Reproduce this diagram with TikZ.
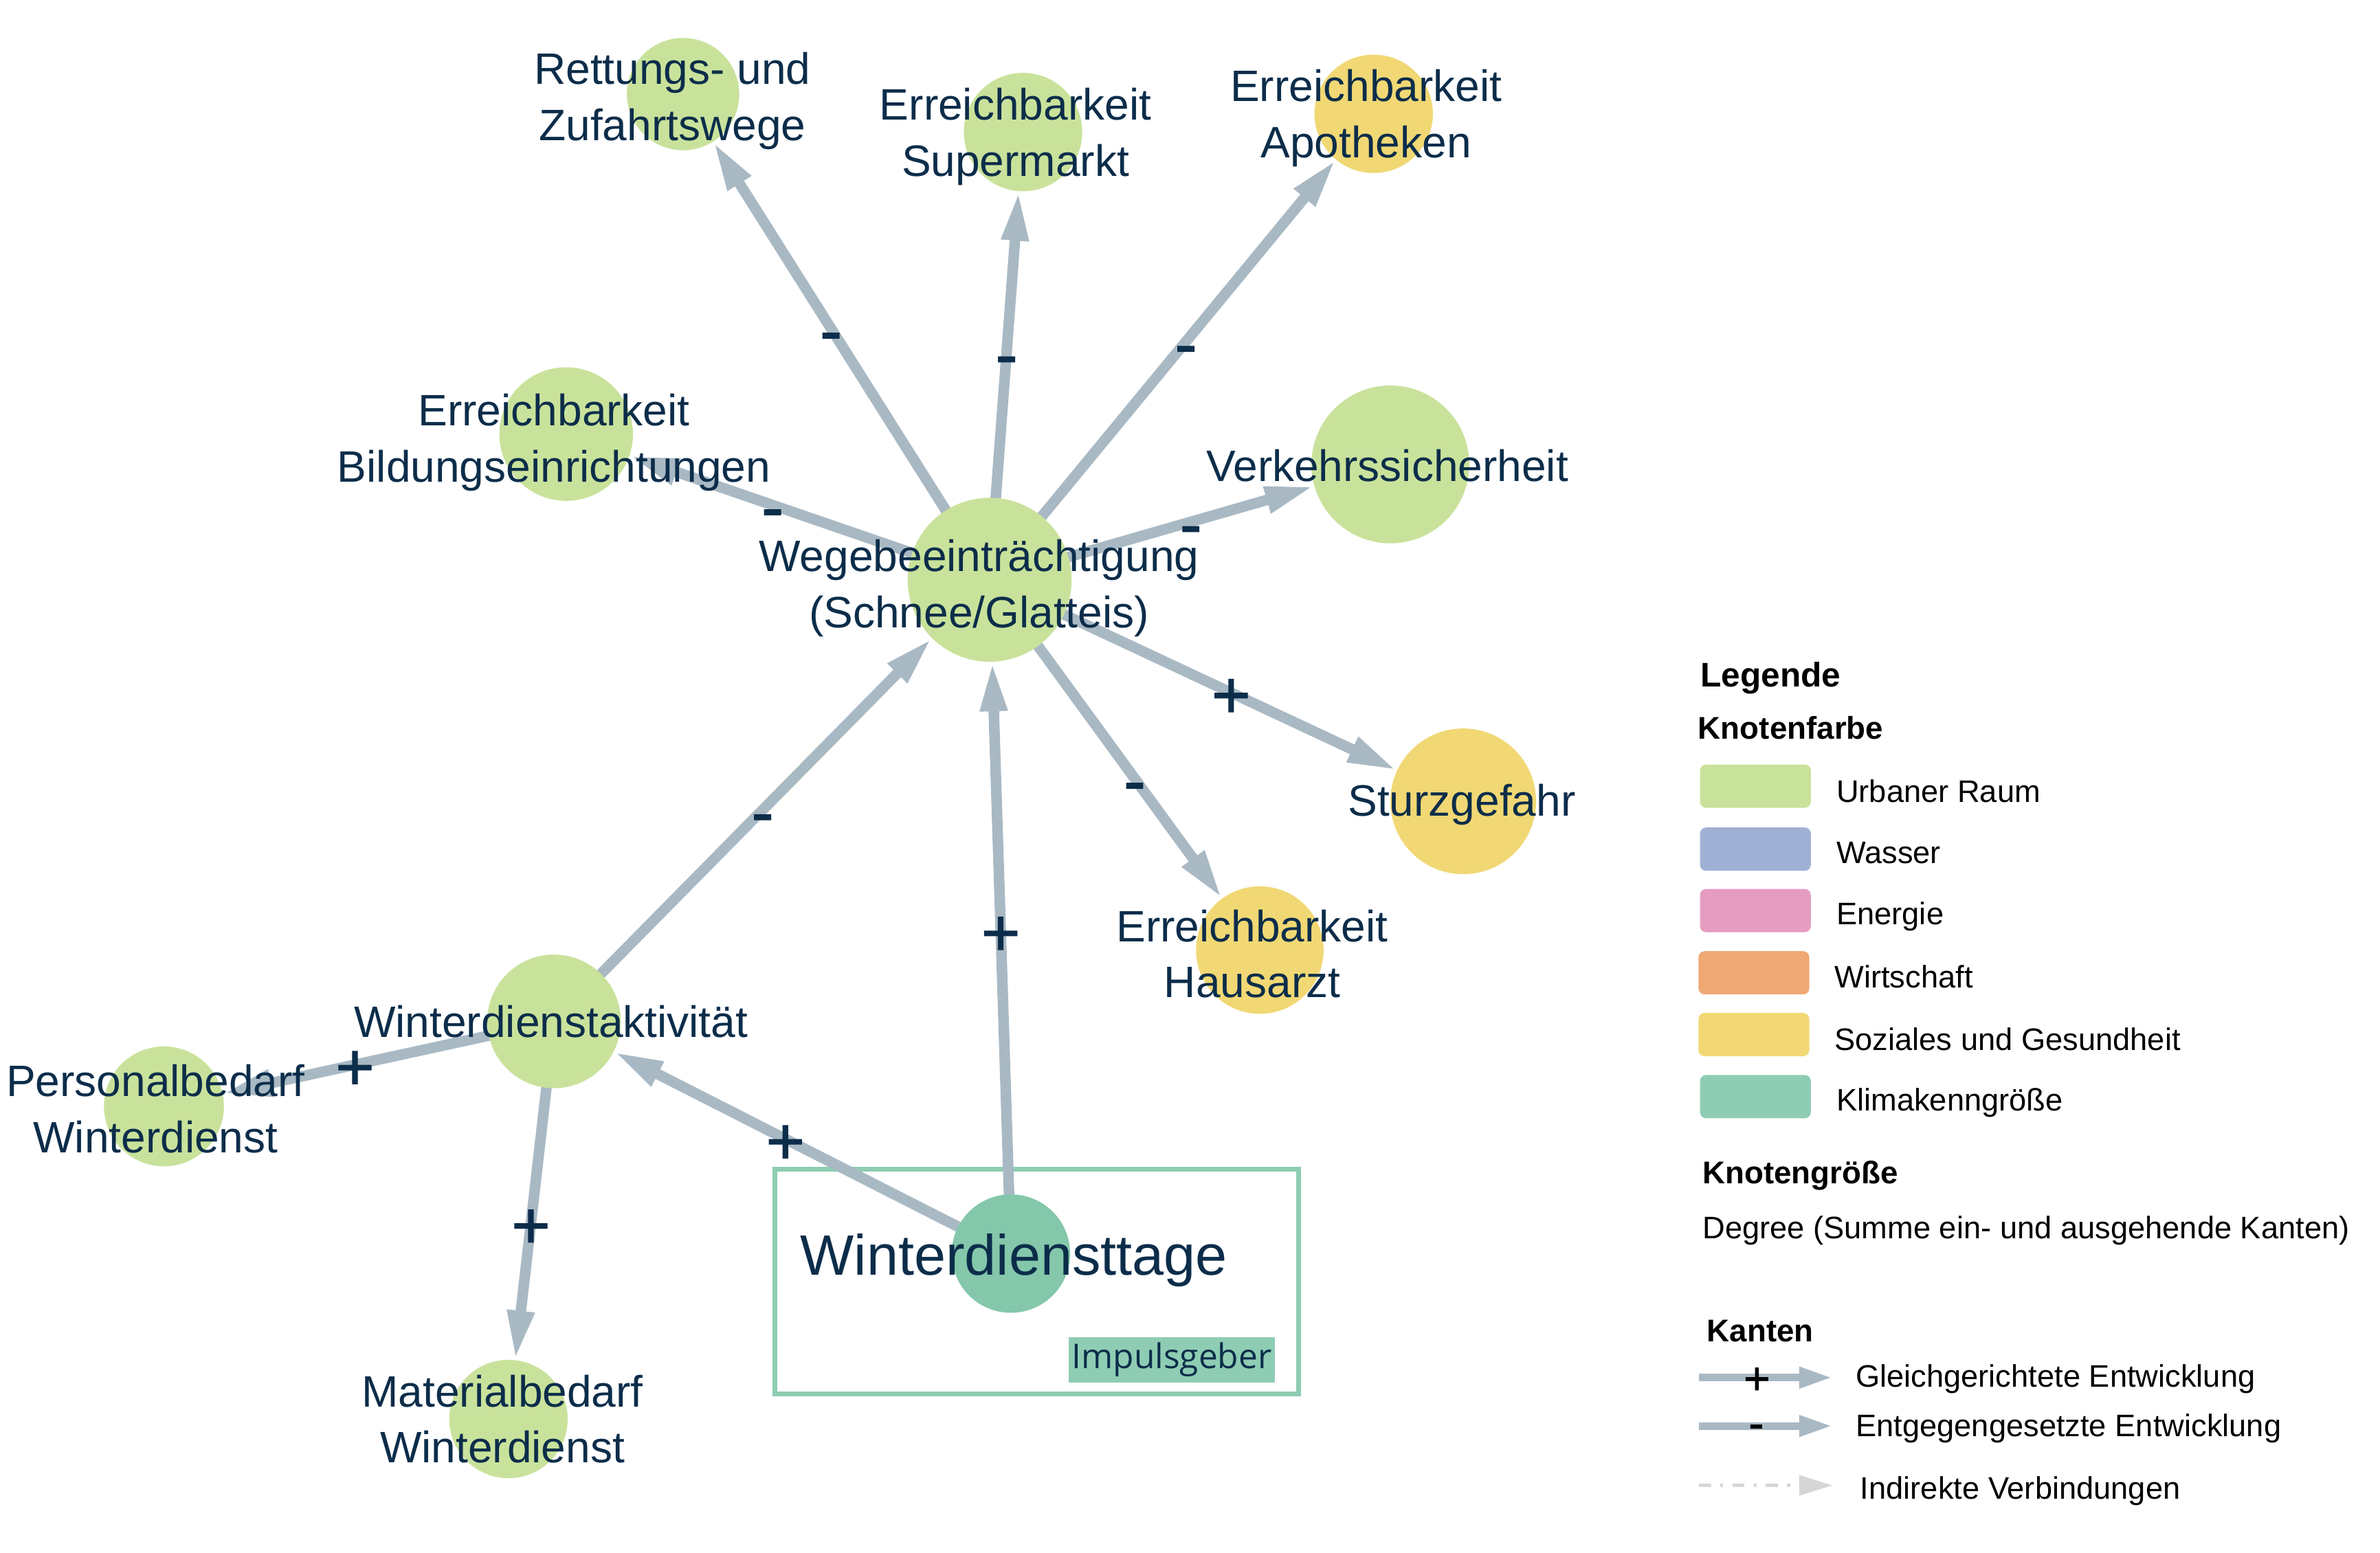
\documentclass[tikz,border=0pt]{standalone}
\usepackage{fontspec}
\setmainfont{Liberation Sans}
\newfontfamily\impfont{Open Sans}
\newfontfamily\signfont[FakeBold=1.2]{Liberation Sans}
\usetikzlibrary{arrows.meta}
\definecolor{txt}{HTML}{0C2D4A}
\definecolor{edgec}{HTML}{A9B9C4}
\definecolor{urb}{HTML}{C9E29B}
\definecolor{wass}{HTML}{A0B0D5}
\definecolor{ener}{HTML}{E59CC1}
\definecolor{wirt}{HTML}{F0A875}
\definecolor{soz}{HTML}{F1D874}
\definecolor{klim}{HTML}{8ECDB3}
\definecolor{klimnode}{HTML}{84C7AB}
\definecolor{indir}{HTML}{D6D6D6}
\pgfdeclarelayer{bottom}
\pgfdeclarelayer{background}
\pgfsetlayers{bottom,background,main}
\begin{document}
\begin{tikzpicture}[x=1pt,y=-1pt,
  circ/.style={circle,draw=none,inner sep=0pt,minimum size=#1},
  lab/.style={text=txt,font=\fontsize{29}{37}\selectfont,align=center,inner sep=0pt},
  conn/.style={draw=edgec,line width=7pt,-{Triangle[length=32.5pt,width=16.5pt]}},
  sgn/.style={text=txt,font=\signfont\fontsize{44}{44}\selectfont,inner sep=0pt,anchor=base,yshift=-16.5pt},
  leg/.style={anchor=base west,inner sep=0pt,font=\fontsize{20.5}{20.5}\selectfont},
  legb/.style={anchor=base west,inner sep=0pt,font=\fontsize{20.7}{20.7}\selectfont\bfseries},
  swatch/.style={rounded corners=4pt,minimum width=73pt,minimum height=28.5pt,inner sep=0pt},
  legconn/.style={draw=edgec,line width=5pt,-{Triangle[length=22pt,width=13pt]}},
  legsgn/.style={text=black,font=\signfont\fontsize{30}{30}\selectfont,inner sep=0pt,anchor=base}]
\useasboundingbox (0,0) rectangle (1568,1023);
\begin{pgfonlayer}{bottom}
\fill[white] (0,0) rectangle (1568,1023);
\node[draw=klim,line width=3pt,minimum width=345pt,minimum height=148pt,inner sep=0pt] (box) at (683,844.5) {};
\end{pgfonlayer}

% nodes
\node[circ=108,fill=urb] (W) at (652,382) {};
\node[circ=74,fill=urb] (RZ) at (450,62) {};
\node[circ=78,fill=urb] (SM) at (674,87) {};
\node[circ=78,fill=soz] (AP) at (905,75) {};
\node[circ=88,fill=urb] (BI) at (373,286) {};
\node[circ=104,fill=urb] (VS) at (916,306) {};
\node[circ=96,fill=soz] (SG) at (964,528) {};
\node[circ=84,fill=soz] (HA) at (830,626) {};
\node[circ=88,fill=urb] (WA) at (365,673) {};
\node[circ=79,fill=urb] (PB) at (108,729) {};
\node[circ=78,fill=urb] (MB) at (335,935) {};
\node[circ=78,fill=klimnode] (WT) at (666,826) {};

% labels
\node[lab] (W-l) at (645,387.5) {Wegebeeinträchtigung\\(Schnee/Glatteis)};
\node[lab] (RZ-l) at (443,66.5) {Rettungs- und\\Zufahrtswege};
\node[lab] (SM-l) at (669,90) {Erreichbarkeit\\Supermarkt};
\node[lab] (AP-l) at (900,78) {Erreichbarkeit\\Apotheken};
\node[lab] (BI-l) at (365,291.5) {Erreichbarkeit\\Bildungseinrichtungen};
\node[lab] (VS-l) at (914,307) {Verkehrssicherheit};
\node[lab] (SG-l) at (963,530) {Sturzgefahr};
\node[lab] (HA-l) at (825,628.5) {Erreichbarkeit\\Hausarzt};
\node[lab] (WA-l) at (363,673) {Winterdienstaktivität};
\node[lab] (PB-l) at (102.5,730.5) {Personalbedarf\\Winterdienst};
\node[lab] (MB-l) at (331,935) {Materialbedarf\\Winterdienst};
\node[text=txt,font=\fontsize{37.5}{37.5}\selectfont,anchor=base,inner sep=0pt] (WT-l) at (668,840) {Winterdiensttage};
\node[fill=klim,text=txt,font=\impfont\fontsize{22.5}{22.5}\selectfont,minimum width=135.5pt,minimum height=30pt,inner sep=0pt] (imp) at (772,896) {Impulsgeber};

% edges
\begin{pgfonlayer}{background}
\draw[conn] (W.center) -- (RZ) node[sgn,pos=.574] {-};
\draw[conn] (W.center) -- (SM) node[sgn,pos=.586] {-};
\draw[conn] (W.center) -- (AP) node[sgn,pos=.567] {-};
\draw[conn] (W.center) -- (BI) node[sgn,pos=.603] {-};
\draw[conn] (W.center) -- (VS) node[sgn,pos=.62] {-};
\draw[conn] (W.center) -- (SG) node[sgn,pos=.593] {+};
\draw[conn] (W.center) -- (HA) node[sgn,pos=.624] {-};
\draw[conn] (WA.center) -- (W) node[sgn,pos=.552] {-};
\draw[conn] (WT.center) -- (W) node[sgn,pos=.546] {+};
\draw[conn] (WT.center) -- (WA) node[sgn,pos=.568] {+};
\draw[conn] (WA.center) -- (PB) node[sgn,pos=.601] {+};
\draw[conn] (WA.center) -- (MB) node[sgn,pos=.596] {+};
\end{pgfonlayer}

% legend
\node[anchor=base west,inner sep=0pt,font=\fontsize{22.5}{22.5}\selectfont\bfseries] (lg) at (1120,452.6) {Legende};
\node[legb] (kf) at (1118.6,487) {Knotenfarbe};
\node[swatch,fill=urb] (s1) at (1156.5,518) {};
\node[swatch,fill=wass] (s2) at (1156.5,559.5) {};
\node[swatch,fill=ener] (s3) at (1156.5,600) {};
\node[swatch,fill=wirt] (s4) at (1155.5,641) {};
\node[swatch,fill=soz] (s5) at (1155.5,681.7) {};
\node[swatch,fill=klim] (s6) at (1156.5,722.6) {};
\node[leg] (t1) at (1209.7,528.6) {Urbaner Raum};
\node[leg] (t2) at (1209.7,569) {Wasser};
\node[leg] (t3) at (1209.7,609.3) {Energie};
\node[leg] (t4) at (1208.5,650.7) {Wirtschaft};
\node[leg] (t5) at (1208.5,692) {Soziales und Gesundheit};
\node[leg] (t6) at (1209.7,732) {Klimakenngröße};
\node[legb] (kg) at (1121.5,780) {Knotengröße};
\node[leg] (dg) at (1121.5,816) {Degree (Summe ein- und ausgehende Kanten)};
\node[legb] (ka) at (1124.5,884) {Kanten};
\coordinate (e1a) at (1119.3,907.7);
\coordinate (e1b) at (1207.3,907.7);
\coordinate (e2a) at (1119.3,939.6);
\coordinate (e2b) at (1207.3,939.6);
\coordinate (e3a) at (1119.3,978.7);
\coordinate (e3b) at (1207.3,978.7);
\draw[legconn] (e1a) -- (e1b);
\node[legsgn] (ls1) at (1157.5,918.6) {+};
\draw[legconn] (e2a) -- (e2b);
\node[legsgn] (ls2) at (1157,948) {-};
\draw[draw=indir,line width=2.5pt,dash pattern=on 8pt off 6pt on 2pt off 6pt,-{Triangle[length=22pt,width=13pt,fill=indir]}] (e3a) -- (e3b);
\node[leg] (lt1) at (1222.4,913.8) {Gleichgerichtete Entwicklung};
\node[leg] (lt2) at (1222.4,946.5) {Entgegengesetzte Entwicklung};
\node[leg] (lt3) at (1225.4,987.6) {Indirekte Verbindungen};
\end{tikzpicture}
\end{document}
